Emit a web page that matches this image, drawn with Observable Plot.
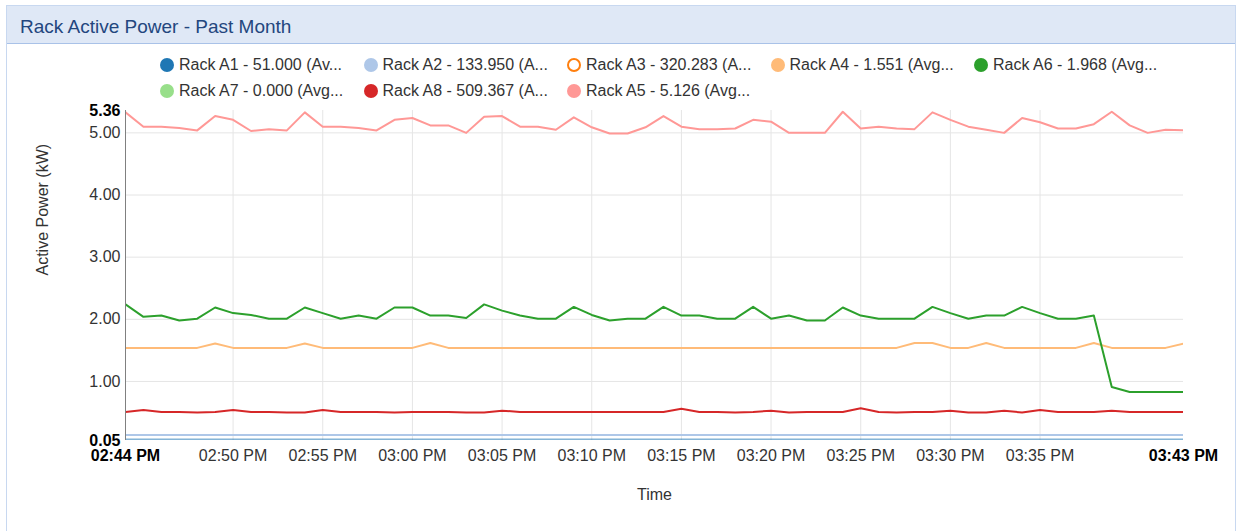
<!DOCTYPE html>
<html>
<head>
<meta charset="utf-8">
<script src="https://cdn.jsdelivr.net/npm/d3@7"></script>
<script src="https://cdn.jsdelivr.net/npm/@observablehq/plot@0.6"></script>
<style>
  html, body { margin: 0; padding: 0; background: #fff; width: 1239px; height: 531px; overflow: hidden; font-family: "Liberation Sans", Arial, sans-serif; }
  #panel { position: absolute; left: 6px; top: 5px; width: 1230px; height: 540px; border: 1px solid #c8d8f0; box-sizing: border-box; }
  #header { position: absolute; left: 0; top: 0; right: 0; height: 38px; background: #dfe8f6; border-bottom: 1px solid #a9c2e8; box-sizing: border-box; }
  #title { position: absolute; left: 13px; top: 10px; font-size: 19px; color: #23467e; white-space: nowrap; }
  #legend { position: absolute; left: 160px; top: 55px; width: 1030px; }
  .item { position: absolute; height: 20px; font-size: 16px; color: #333; white-space: nowrap; }
  .dot { position: absolute; left: 0; top: 3px; width: 14px; height: 14px; border-radius: 50%; box-sizing: border-box; }
  .lab { position: absolute; left: 19px; top: 1px; }
  #chart { position: absolute; left: 0; top: 100px; }
</style>
</head>
<body>
<div id="panel"><div id="header"><div id="title">Rack Active Power - Past Month</div></div></div>
<div id="legend"></div>
<div id="chart"></div>
<script>
const times = [
  "14:44","14:45","14:46","14:47","14:48","14:49","14:50","14:51","14:52","14:53",
  "14:54","14:55","14:56","14:57","14:58","14:59","15:00","15:01","15:02","15:03",
  "15:04","15:05","15:06","15:07","15:08","15:09","15:10","15:11","15:12","15:13",
  "15:14","15:15","15:16","15:17","15:18","15:19","15:20","15:21","15:22","15:23",
  "15:24","15:25","15:26","15:27","15:28","15:29","15:30","15:31","15:32","15:33",
  "15:34","15:35","15:36","15:37","15:38","15:39","15:40","15:41","15:42","15:43"
];
const gridTimes = ["14:50","14:55","15:00","15:05","15:10","15:15","15:20","15:25","15:30","15:35"];
const endTimes = ["14:44","15:43"];
const yTicks = [1, 2, 3, 4, 5];
const yEnds = [5.36, 0.05];

const seriesNames = ["Rack A1","Rack A2","Rack A3","Rack A4","Rack A6","Rack A7","Rack A8","Rack A5"];
const legendLabels = [
  "Rack A1 - 51.000 (Av...","Rack A2 - 133.950 (A...","Rack A3 - 320.283 (A...","Rack A4 - 1.551 (Avg...",
  "Rack A6 - 1.968 (Avg...","Rack A7 - 0.000 (Avg...","Rack A8 - 509.367 (A...","Rack A5 - 5.126 (Avg..."
];
const seriesColors = ["#1f77b4","#aec7e8","#ff7f0e","#ffbb78","#2ca02c","#98df8a","#d62728","#ff9896"];
const disabled = ["Rack A3"];

const rackA1 = [
  0.065,0.065,0.065,0.065,0.065,0.065,0.065,0.065,0.065,0.065,
  0.065,0.065,0.065,0.065,0.065,0.065,0.065,0.065,0.065,0.065,
  0.065,0.065,0.065,0.065,0.065,0.065,0.065,0.065,0.065,0.065,
  0.065,0.065,0.065,0.065,0.065,0.065,0.065,0.065,0.065,0.065,
  0.065,0.065,0.065,0.065,0.065,0.065,0.065,0.065,0.065,0.065,
  0.065,0.065,0.065,0.065,0.065,0.065,0.065,0.065,0.065,0.065
];
const rackA2 = [
  0.14,0.14,0.14,0.14,0.14,0.14,0.14,0.14,0.14,0.14,
  0.14,0.14,0.14,0.14,0.14,0.14,0.14,0.14,0.14,0.14,
  0.14,0.14,0.14,0.14,0.14,0.14,0.14,0.14,0.14,0.14,
  0.14,0.14,0.14,0.14,0.14,0.14,0.14,0.14,0.14,0.14,
  0.14,0.14,0.14,0.14,0.14,0.14,0.14,0.14,0.14,0.14,
  0.14,0.14,0.14,0.14,0.14,0.14,0.14,0.14,0.14,0.14
];
const rackA4 = [
  1.54,1.54,1.54,1.54,1.54,1.61,1.54,1.54,1.54,1.54,
  1.61,1.54,1.54,1.54,1.54,1.54,1.54,1.62,1.54,1.54,
  1.54,1.54,1.54,1.54,1.54,1.54,1.54,1.54,1.54,1.54,
  1.54,1.54,1.54,1.54,1.54,1.54,1.54,1.54,1.54,1.54,
  1.54,1.54,1.54,1.54,1.62,1.62,1.54,1.54,1.62,1.54,
  1.54,1.54,1.54,1.54,1.62,1.54,1.54,1.54,1.54,1.61
];
const rackA6 = [
  2.24,2.04,2.06,1.98,2.01,2.19,2.10,2.07,2.01,2.01,
  2.19,2.10,2.01,2.06,2.01,2.19,2.19,2.06,2.06,2.02,
  2.24,2.14,2.06,2.01,2.01,2.20,2.07,1.98,2.01,2.01,
  2.20,2.06,2.06,2.01,2.01,2.20,2.01,2.06,1.98,1.98,
  2.19,2.06,2.01,2.01,2.01,2.20,2.10,2.01,2.06,2.06,
  2.20,2.10,2.01,2.01,2.06,0.91,0.83,0.83,0.83,0.83
];
const rackA7 = [
  0,0,0,0,0,0,0,0,0,0, 0,0,0,0,0,0,0,0,0,0,
  0,0,0,0,0,0,0,0,0,0, 0,0,0,0,0,0,0,0,0,0,
  0,0,0,0,0,0,0,0,0,0, 0,0,0,0,0,0,0,0,0,0
];
const rackA8 = [
  0.51,0.54,0.51,0.51,0.50,0.51,0.54,0.51,0.51,0.50,
  0.50,0.54,0.51,0.51,0.51,0.50,0.51,0.51,0.51,0.50,
  0.50,0.53,0.51,0.51,0.51,0.51,0.51,0.51,0.51,0.51,
  0.51,0.56,0.51,0.51,0.50,0.51,0.53,0.50,0.51,0.51,
  0.51,0.57,0.51,0.50,0.51,0.51,0.53,0.50,0.50,0.53,
  0.50,0.54,0.51,0.51,0.51,0.53,0.51,0.51,0.51,0.51
];
const rackA5 = [
  5.33,5.10,5.10,5.08,5.04,5.27,5.21,5.03,5.06,5.04,
  5.33,5.10,5.10,5.08,5.04,5.21,5.24,5.12,5.12,5.00,
  5.26,5.27,5.10,5.10,5.05,5.25,5.09,4.99,4.99,5.09,
  5.27,5.10,5.06,5.06,5.07,5.21,5.18,5.00,5.00,5.00,
  5.34,5.07,5.10,5.07,5.06,5.33,5.21,5.10,5.05,5.00,
  5.24,5.17,5.07,5.07,5.14,5.34,5.12,5.00,5.05,5.04
];

const parse = d3.utcParse("%H:%M");
const fmt = d3.utcFormat("%I:%M %p");
const seriesValues = {"Rack A1": rackA1, "Rack A2": rackA2, "Rack A4": rackA4, "Rack A6": rackA6, "Rack A7": rackA7, "Rack A8": rackA8, "Rack A5": rackA5};

const rows = [];
for (const name of seriesNames) {
  if (disabled.includes(name)) continue;
  const vals = seriesValues[name];
  times.forEach((t, i) => rows.push({series: name, time: parse(t), value: vals[i]}));
}

// Legend
const legend = document.getElementById("legend");
seriesNames.forEach((name, i) => {
  const col = i % 5, row = Math.floor(i / 5);
  const item = document.createElement("div");
  item.className = "item";
  item.style.left = (col * 203.5) + "px";
  item.style.top = (row * 25.5) + "px";
  const dot = document.createElement("div");
  dot.className = "dot";
  const c = seriesColors[i];
  if (disabled.includes(name)) { dot.style.border = "2px solid " + c; dot.style.background = "#fff"; }
  else dot.style.background = c;
  const lab = document.createElement("span");
  lab.className = "lab";
  lab.textContent = legendLabels[i];
  item.appendChild(dot); item.appendChild(lab);
  legend.appendChild(item);
});

const t0 = parse(endTimes[0]), t1 = parse(endTimes[1]);
const chart = Plot.plot({
  width: 1239,
  height: 431,
  marginLeft: 125,
  marginRight: 56,
  marginTop: 10,
  marginBottom: 91,
  style: {fontFamily: "'Liberation Sans', Arial, sans-serif", fontSize: "16px", color: "#333", background: "transparent", overflow: "visible"},
  x: {type: "utc", domain: [t0, t1], axis: null, label: null},
  y: {domain: [0.05, 5.36], axis: null, label: null},
  color: {domain: seriesNames, range: seriesColors},
  marks: [
    Plot.ruleY(yTicks, {stroke: "#e5e5e5", strokeWidth: 1}),
    Plot.ruleX(gridTimes.map(parse), {stroke: "#e5e5e5", strokeWidth: 1}),
    Plot.line(rows, {x: "time", y: "value", z: "series", stroke: "series", strokeWidth: 2, clip: true,
      strokeOpacity: d => d.series === "Rack A1" ? 0.55 : 1}),
    Plot.ruleX([t0], {stroke: "#808080", strokeWidth: 1}),
    Plot.axisY(yTicks, {tickSize: 0, tickPadding: 5, tickFormat: d3.format(".2f"), fill: "#333", label: null}),
    Plot.text(yEnds, {y: d => d, frameAnchor: "left", dx: -5, textAnchor: "end", fontWeight: "bold", fill: "#000", text: d => d.toFixed(2)}),
    Plot.axisX(gridTimes.map(parse), {tickSize: 0, tickPadding: 9, tickFormat: fmt, fill: "#333", label: null}),
    Plot.text([t0, t1], {x: d => d, frameAnchor: "bottom", lineAnchor: "top", dy: 9, fontWeight: "bold", fill: "#000", text: d => fmt(d)}),
    Plot.text(["Active Power (kW)"], {frameAnchor: "left", dx: -83, rotate: -90, fill: "#333"}),
    Plot.text(["Time"], {frameAnchor: "bottom", dy: 59, fill: "#333"})
  ]
});
document.getElementById("chart").appendChild(chart);
</script>
</body>
</html>
